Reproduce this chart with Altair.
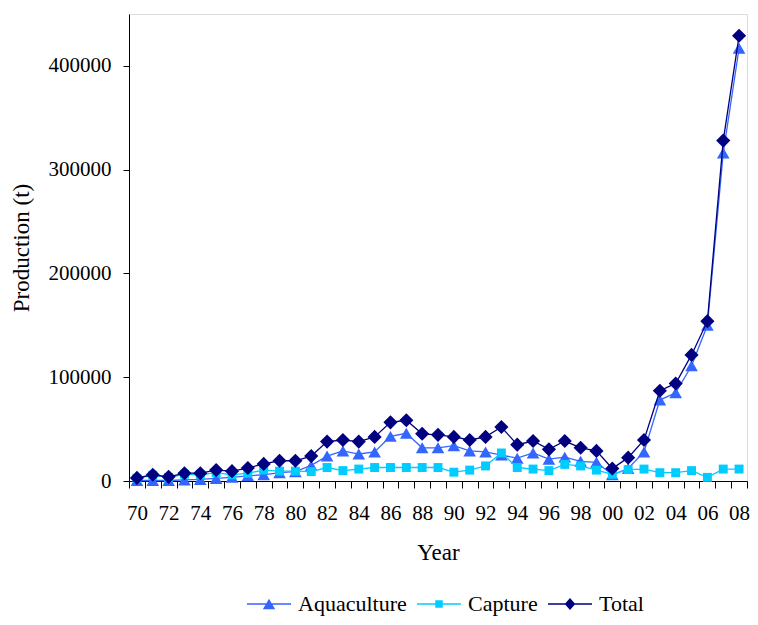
import altair as alt
import pandas as pd

years = ["70", "71", "72", "73", "74", "75", "76", "77", "78", "79",
         "80", "81", "82", "83", "84", "85", "86", "87", "88", "89",
         "90", "91", "92", "93", "94", "95", "96", "97", "98", "99",
         "00", "01", "02", "03", "04", "05", "06", "07", "08"]

aquaculture = [500, 500, 500, 1000, 1500, 2500, 3500, 5000, 6000, 8000,
               9000, 15000, 24000, 29000, 26000, 28000, 43000, 46000, 32000, 32000,
               34000, 29000, 28000, 25000, 22000, 27000, 21000, 23000, 19000, 18000,
               6000, 12000, 28000, 78000, 85000, 111000, 150000, 316000, 417000]

capture = [2500, 5500, 3500, 6500, 6000, 8000, 6000, 7500, 10500, 9500,
           9500, 9000, 13000, 10000, 11500, 13000, 13000, 13000, 13000, 13000,
           8500, 10500, 14500, 27000, 13000, 11500, 10000, 16000, 14500, 10500,
           6500, 11000, 11500, 8000, 8000, 10000, 3500, 11500, 11500]

total = [3000, 6000, 4000, 7500, 7500, 10500, 9500, 12500, 16500, 19500,
         19500, 24000, 38000, 39500, 38000, 42500, 56500, 58500, 45500, 44500,
         42500, 39500, 42500, 52000, 35000, 38500, 30500, 38500, 32000, 29000,
         12000, 22500, 39500, 87000, 94000, 121500, 154000, 328000, 429000]

series_names = ["Aquaculture", "Capture", "Total"]
series_colors = ["#3366FF", "#00CCFF", "#000080"]
marker_shapes = ["triangle-up", "square", "diamond"]
marker_sizes = [160, 80, 200]

# legend symbols: a thin bar (the line) plus the marker, in -1..1 units
legend_paths = [
    "M-1,-0.035H1V0.035H-1Z M0,-0.24L0.28,0.24L-0.28,0.24Z",
    "M-1,-0.035H1V0.035H-1Z M-0.17,-0.17H0.17V0.17H-0.17Z",
    "M-1,-0.035H1V0.035H-1Z M0,-0.27L0.24,0L0,0.27L-0.24,0Z",
]

rows = []
for name, vals in zip(series_names, [aquaculture, capture, total]):
    for y, v in zip(years, vals):
        rows.append({"Year": y, "Production": v, "Series": name})
df = pd.DataFrame(rows)

FONT = "Liberation Serif"

x_enc = alt.X(
    "Year:O",
    sort=years,
    scale=alt.Scale(type="band", paddingInner=0, paddingOuter=0),
    axis=alt.Axis(
        title="Year",
        tickBand="extent",
        labelExpr="toNumber(datum.value) % 2 == 0 ? datum.label : ''",
        labelAngle=0,
        labelFont=FONT, labelFontSize=21, labelColor="#000",
        titleFont=FONT, titleFontSize=23, titleFontWeight="normal", titleColor="#000",
        tickSize=7, tickColor="#000", domainColor="#000",
        labelPadding=14, titlePadding=18, grid=False,
    ),
)
y_enc = alt.Y(
    "Production:Q",
    scale=alt.Scale(domain=[0, 450000], nice=False),
    axis=alt.Axis(
        title="Production (t)",
        values=[0, 100000, 200000, 300000, 400000],
        format="d",
        labelFont=FONT, labelFontSize=21, labelColor="#000",
        titleFont=FONT, titleFontSize=23, titleFontWeight="normal", titleColor="#000",
        tickSize=6, tickColor="#000", domainColor="#000",
        labelPadding=12, titlePadding=15, grid=False,
    ),
)
color_enc = alt.Color(
    "Series:N",
    scale=alt.Scale(domain=series_names, range=series_colors),
    legend=None,
)

layers = []
for name, shp, sz in zip(series_names, marker_shapes, marker_sizes):
    sub = alt.Chart(df).transform_filter(alt.datum.Series == name)
    layers.append(sub.mark_line(strokeWidth=1.3).encode(x=x_enc, y=y_enc, color=color_enc))
    layers.append(sub.mark_point(filled=True, opacity=1, shape=shp, size=sz).encode(
        x=x_enc, y=y_enc, color=color_enc))

legend_def = alt.Legend(
    title=None, orient="none", direction="horizontal",
    legendX=118, legendY=568,
    symbolSize=1936, labelFont=FONT, labelFontSize=22, labelColor="#000",
    labelOffset=7, columnPadding=10, padding=0, symbolStrokeWidth=0,
    symbolOpacity=1,
)
legend_layer = alt.Chart(df).mark_point(filled=True).encode(
    x=x_enc, y=y_enc,
    opacity=alt.value(0),
    fill=alt.Fill("Series:N", scale=alt.Scale(domain=series_names, range=series_colors),
                  legend=legend_def),
    shape=alt.Shape("Series:N", scale=alt.Scale(domain=series_names, range=legend_paths),
                    legend=legend_def),
)
layers.insert(0, legend_layer)

chart = alt.layer(*layers).properties(
    width=618, height=467,
    autosize=alt.AutoSizeParams(type="none"),
    padding={"left": 121, "top": 6, "right": 3, "bottom": 136},
).configure_view(stroke=None).configure(background="white")

chart.save("out.html", embed_options={"renderer": "svg", "actions": False})
